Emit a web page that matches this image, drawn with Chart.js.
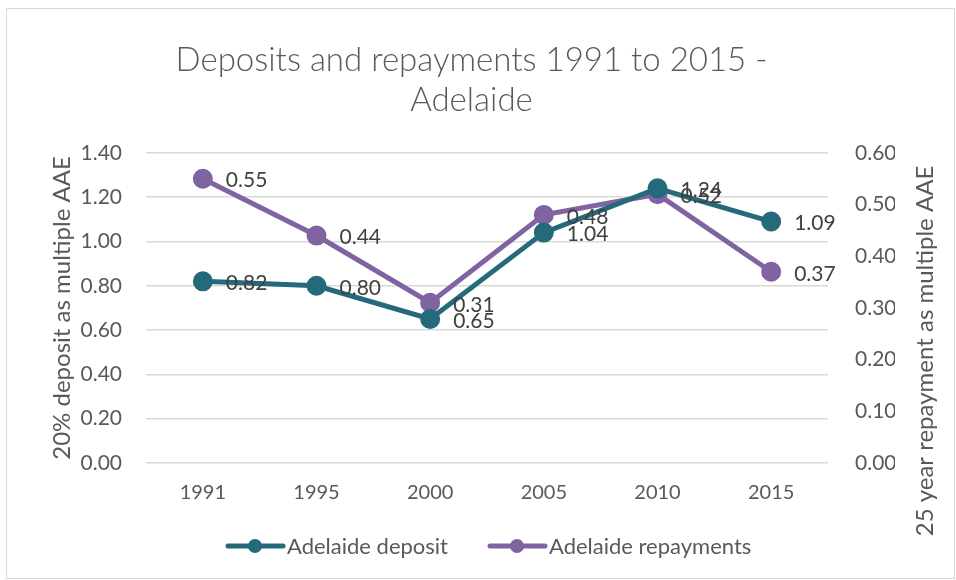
<!DOCTYPE html>
<html>
<head>
<meta charset="utf-8">
<script src="https://cdn.jsdelivr.net/npm/chart.js@4"></script>
<style>
  html, body { margin: 0; padding: 0; background: #fff; }
</style>
</head>
<body>
<canvas id="dash" width="956" height="580"></canvas>
<script>
const years = ['1991', '1995', '2000', '2005', '2010', '2015'];
const deposit = [0.82, 0.80, 0.65, 1.04, 1.24, 1.09];
const repayments = [0.55, 0.44, 0.31, 0.48, 0.52, 0.37];
const leftTicks = [0, 0.2, 0.4, 0.6, 0.8, 1.0, 1.2, 1.4];
const rightTicks = [0, 0.1, 0.2, 0.3, 0.4, 0.5, 0.6];

const FONT = 'Lato, "Open Sans", sans-serif';
const TEAL = '#256A7A';
const PURPLE = '#8064A2';

// etiquetas de dados ao lado de cada ponto
const labelsPlugin = {
  id: 'valueLabels',
  afterDatasetsDraw(chart) {
    const ctx = chart.ctx;
    ctx.save();
    ctx.font = '21px ' + FONT;
    ctx.fillStyle = '#404040';
    ctx.textAlign = 'left';
    ctx.textBaseline = 'middle';
    chart.data.datasets.forEach(function (ds, i) {
      chart.getDatasetMeta(i).data.forEach(function (pt, j) {
        ctx.fillText(ds.data[j].toFixed(2), pt.x + 23, pt.y + 2);
      });
    });
    ctx.restore();
  }
};

// moldura, legenda e titulo do eixo direito
const extrasPlugin = {
  id: 'extras',
  afterDraw(chart) {
    const ctx = chart.ctx;
    ctx.save();
    ctx.strokeStyle = '#d9d9d9';
    ctx.lineWidth = 1;
    ctx.strokeRect(6.5, 8.5, 948, 570);

    // titulo eixo direito
    ctx.font = '24px ' + FONT;
    ctx.fillStyle = '#595959';
    ctx.textAlign = 'center';
    ctx.textBaseline = 'middle';
    ctx.translate(925, 351);
    ctx.rotate(-Math.PI / 2);
    ctx.fillText('25 year repayment as multiple AAE', 0, 0);
    ctx.restore();

    // legenda
    ctx.save();
    ctx.font = '22px ' + FONT;
    ctx.textBaseline = 'middle';
    ctx.textAlign = 'left';
    const y = 546;
    const starts = [228, 490];
    chart.data.datasets.forEach(function (ds, i) {
      const x0 = starts[i];
      ctx.strokeStyle = ds.borderColor;
      ctx.lineWidth = 5;
      ctx.lineCap = 'round';
      ctx.beginPath();
      ctx.moveTo(x0, y);
      ctx.lineTo(x0 + 55, y);
      ctx.stroke();
      ctx.fillStyle = ds.borderColor;
      ctx.beginPath();
      ctx.arc(x0 + 27, y, 7, 0, Math.PI * 2);
      ctx.fill();
      ctx.fillStyle = '#595959';
      ctx.fillText(ds.label, x0 + 59, y + 1);
    });
    ctx.restore();
  }
};

let dash = document.getElementById('dash');
let grafico = new Chart(dash, {
  type: 'line',
  data: {
    labels: years,
    datasets: [{
      label: 'Adelaide deposit',
      data: deposit,
      yAxisID: 'y',
      borderColor: TEAL,
      backgroundColor: TEAL,
      borderWidth: 5,
      pointRadius: 7.5,
      pointHoverRadius: 7.5,
      tension: 0
    }, {
      label: 'Adelaide repayments',
      data: repayments,
      yAxisID: 'y1',
      borderColor: PURPLE,
      backgroundColor: PURPLE,
      borderWidth: 5,
      pointRadius: 7.5,
      pointHoverRadius: 7.5,
      tension: 0
    }]
  },
  plugins: [labelsPlugin, extrasPlugin],
  options: {
    responsive: false,
    animation: false,
    devicePixelRatio: 1,
    layout: { padding: { left: 48, right: 61, top: 0, bottom: 75 } },
    plugins: {
      legend: { display: false },
      tooltip: { enabled: false },
      title: {
        display: true,
        text: ['Deposits and repayments 1991 to 2015 -', 'Adelaide'],
        color: '#595959',
        font: { family: FONT, size: 33, weight: 300, lineHeight: 1.21 },
        padding: { top: 40, bottom: 33 }
      }
    },
    scales: {
      x: {
        offset: true,
        afterFit: function (s) { s.height = 42; },
        grid: { display: false, drawTicks: false },
        border: { display: false },
        ticks: { color: '#595959', font: { family: FONT, size: 20 }, padding: 18, maxRotation: 0 }
      },
      y: {
        position: 'left',
        min: 0,
        max: 1.4,
        afterFit: function (s) { s.width = 98; },
        afterBuildTicks: function (s) { s.ticks = leftTicks.map(function (v) { return { value: v }; }); },
        ticks: {
          color: '#595959',
          font: { family: FONT, size: 21 },
          padding: 24,
          callback: function (v) { return Number(v).toFixed(2); }
        },
        grid: { color: '#d9d9d9', lineWidth: 1.5, drawTicks: false },
        border: { display: false },
        title: {
          display: true,
          text: '20% deposit as multiple AAE',
          color: '#595959',
          font: { family: FONT, size: 24 },
          padding: { top: 0, bottom: 5 }
        }
      },
      y1: {
        position: 'right',
        min: 0,
        max: 0.6,
        afterFit: function (s) { s.width = 67; },
        afterBuildTicks: function (s) { s.ticks = rightTicks.map(function (v) { return { value: v }; }); },
        ticks: {
          color: '#595959',
          font: { family: FONT, size: 21 },
          padding: 27,
          callback: function (v) { return Number(v).toFixed(2); }
        },
        grid: { display: false, drawTicks: false },
        border: { display: false }
      }
    }
  }
});
</script>
</body>
</html>
